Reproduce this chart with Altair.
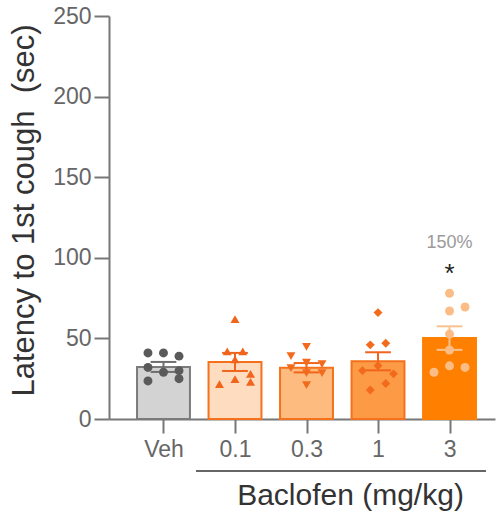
import json
import altair as alt
import pandas as pd

groups = ["Veh", "0.1", "0.3", "1", "3"]
means = [32.3, 35.4, 31.8, 35.8, 50.2]
sems = [3.1, 5.6, 2.9, 5.6, 7.3]

veh_vals = [41, 41, 39, 32, 29, 30, 23.6, 25]
veh_cols = [-1, 0, 1, -1, 0, 1, -1, 1]
d01_vals = [62, 42, 42, 37, 21.7, 24.8, 28, 23]
d01_cols = [0, -0.5, 0.5, 0, -1, 0, 1, 1]
d03_vals = [44.7, 39, 35, 34, 31.6, 28.5, 28.5, 21]
d03_cols = [0, -1, 0, 1, -1, 0, 1, 0]
d1_vals = [66, 46, 47, 33, 30, 28, 22, 18]
d1_cols = [0, -0.5, 0.5, 0, -1, 1, 0.5, -0.5]
d3_vals = [78, 67, 69.5, 52.7, 42.8, 33, 29, 32]
d3_cols = [0, 0, 1, 0, 0, 0, -1, 1]

ann_label = "150%"
ann_y = 106
star_y = 85

fill_colors = ["#d3d3d3", "#fedcc0", "#fdbb80", "#fd9a46", "#ff8000"]
stroke_colors = ["#7b7b7b", "#f5711c", "#f5711c", "#f5711c", "#ff7f00"]
point_colors = ["#5a5a5a", "#f0641c", "#f26b1d", "#f26b1d", "#fbbd85"]
err_colors = ["#6e6e6e", "#f0641c", "#f0641c", "#f0641c", "#f8c28e"]
shapes = ["circle", "triangle-up", "triangle-down", "diamond", "circle"]

BAR_HALF = 0.37
CAP_HALF = 0.18
JITTER = 0.217

bars = pd.DataFrame({"group": groups, "idx": list(range(len(groups))),
                     "mean": means, "sem": sems})

grp_list = (["Veh"] * len(veh_vals) + ["0.1"] * len(d01_vals) + ["0.3"] * len(d03_vals)
            + ["1"] * len(d1_vals) + ["3"] * len(d3_vals))
pts = pd.DataFrame({
    "group": grp_list,
    "idx": [groups.index(g) for g in grp_list],
    "value": veh_vals + d01_vals + d03_vals + d1_vals + d3_vals,
    "col": veh_cols + d01_cols + d03_cols + d1_cols + d3_cols,
})

FONT = "Liberation Sans"

xscale = alt.Scale(domain=[-0.762, 4.636], nice=False, zero=False)
xaxis = alt.Axis(values=list(range(len(groups))),
                 labelExpr=json.dumps(groups) + "[datum.value]",
                 labelAngle=0, tickSize=14, tickWidth=2, tickColor="#777777",
                 domainColor="#777777", domainWidth=2, labelFontSize=23,
                 labelColor="#666666", labelFont=FONT, labelPadding=5, grid=False,
                 labelFlush=False, labelOverlap=False,
                 title="Baclofen (mg/kg)", titleFont=FONT, titleFontSize=30,
                 titleFontWeight="normal", titleColor="#333333",
                 titleX=241, titleY=85, titleBaseline="alphabetic", titleAlign="center")
yscale = alt.Scale(domain=[0, 250], nice=False)
yaxis = alt.Axis(values=[0, 50, 100, 150, 200, 250], tickSize=15, tickWidth=2,
                 tickColor="#777777", domainColor="#777777", domainWidth=2,
                 labelFontSize=23, labelColor="#666666", labelFont=FONT, labelPadding=3,
                 grid=False, title="Latency to 1st cough\u00a0 (sec)", titleFont=FONT,
                 titleFontSize=31, titleFontWeight="normal", titleColor="#333333",
                 titleX=-76, titleY=194, titleBaseline="alphabetic", titleAlign="center",
                 titleAngle=270)

gscale = lambda rng: alt.Scale(domain=groups, range=rng)

base_bar = alt.Chart(bars).transform_calculate(
    x0=f"datum.idx - {BAR_HALF}", x1=f"datum.idx + {BAR_HALF}",
    c0=f"datum.idx - {CAP_HALF}", c1=f"datum.idx + {CAP_HALF}",
    lo="datum.mean - datum.sem", hi="datum.mean + datum.sem",
)
bar = base_bar.mark_bar(strokeWidth=2).encode(
    x=alt.X("x0:Q", scale=xscale, axis=xaxis),
    x2="x1:Q",
    y=alt.Y("mean:Q", scale=yscale, axis=yaxis),
    y2=alt.datum(0),
    fill=alt.Fill("group:N", scale=gscale(fill_colors), legend=None),
    stroke=alt.Stroke("group:N", scale=gscale(stroke_colors), legend=None),
)

errc = alt.Color("group:N", scale=gscale(err_colors), legend=None)
err_rule = base_bar.mark_rule(strokeWidth=2).encode(
    x="idx:Q", y="lo:Q", y2="hi:Q", color=errc)
cap_lo = base_bar.mark_rule(strokeWidth=2).encode(
    x="c0:Q", x2="c1:Q", y="lo:Q", color=errc)
cap_hi = base_bar.mark_rule(strokeWidth=2).encode(
    x="c0:Q", x2="c1:Q", y="hi:Q", color=errc)

points = alt.Chart(pts).transform_calculate(
    px=f"datum.idx + datum.col * {JITTER}"
).mark_point(filled=True, size=80, opacity=1).encode(
    x="px:Q",
    y="value:Q",
    color=alt.Color("group:N", scale=gscale(point_colors), legend=None),
    shape=alt.Shape("group:N", scale=gscale(shapes), legend=None),
)

ann = pd.DataFrame({"idx": [groups.index("3")], "y": [ann_y], "label": [ann_label]})
ann_text = alt.Chart(ann).mark_text(fontSize=18, color="#9a9a9a", font=FONT,
                                    baseline="alphabetic", align="center").encode(
    x="idx:Q", y="y:Q", text="label:N")
star = pd.DataFrame({"idx": [groups.index("3")], "y": [star_y], "label": ["*"]})
star_text = alt.Chart(star).mark_text(fontSize=26, color="#222222", font=FONT,
                                      baseline="alphabetic", align="center").encode(
    x="idx:Q", y="y:Q", text="label:N")

bracket = alt.Chart(pd.DataFrame({"a": [0]})).mark_rule(color="#666666", strokeWidth=2).encode(
    x=alt.value(87), x2=alt.value(377), y=alt.value(455))

chart = alt.layer(bar, err_rule, cap_lo, cap_hi, points, ann_text, star_text, bracket).properties(
    width=386, height=403,
    autosize=alt.AutoSizeParams(type="none"),
    padding={"left": 109, "top": 16, "right": 1, "bottom": 96},
    background="white",
).configure_view(stroke=None).resolve_scale(color="independent")

chart.save("out.html", embed_options={"renderer": "svg", "actions": False})
